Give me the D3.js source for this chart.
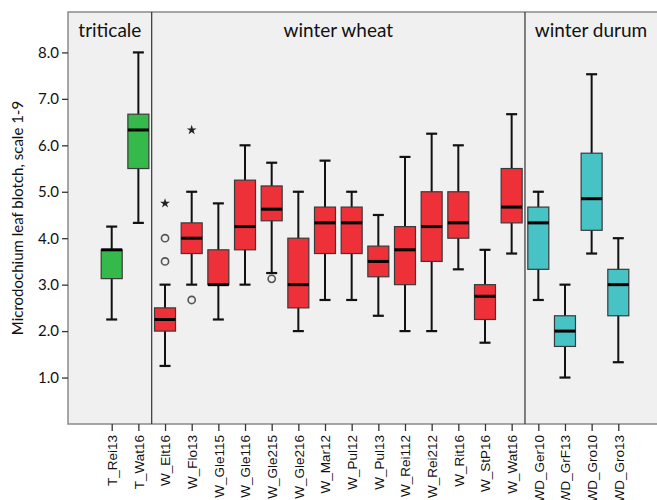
<!DOCTYPE html>
<html>
<head>
<meta charset="utf-8">
<script src="https://cdn.jsdelivr.net/npm/d3@7"></script>
<style>
  body { margin: 0; background: #fff; }
  svg { display: block; }
</style>
</head>
<body>
<div id="wrapper"></div>
<script>
// categories and their group
const categories = ["T_Rei13", "T_Wat16", "W_Elt16", "W_Flo13", "W_Gle115", "W_Gle116", "W_Gle215",
  "W_Gle216", "W_Mar12", "W_Pul12", "W_Pul13", "W_Rei112", "W_Rei212", "W_Rit16", "W_StP16",
  "W_Wat16", "WD_Ger10", "WD_GrF13", "WD_Gro10", "WD_Gro13"]
const groupOf = ["T", "T", "W", "W", "W", "W", "W", "W", "W", "W", "W", "W", "W", "W", "W", "W",
  "WD", "WD", "WD", "WD"]
const groups = ["T", "W", "WD"]
const groupLabels = ["triticale", "winter wheat", "winter durum"]

// box statistics
const whiskerLow = [2.25, 4.33, 1.25, 3.0, 2.25, 3.0, 3.25, 2.0, 2.67, 2.67, 2.33, 2.0, 2.0, 3.33, 1.75, 3.67, 2.67, 1.0, 3.67, 1.33]
const q1 = [3.13, 5.5, 2.0, 3.67, 3.0, 3.75, 4.375, 2.5, 3.67, 3.67, 3.17, 3.0, 3.5, 4.0, 2.25, 4.33, 3.33, 1.67, 4.17, 2.33]
const median = [3.75, 6.33, 2.25, 4.0, 3.0, 4.25, 4.625, 3.0, 4.33, 4.33, 3.5, 3.75, 4.25, 4.33, 2.75, 4.67, 4.33, 2.0, 4.85, 3.0]
const q3 = [3.75, 6.67, 2.5, 4.33, 3.75, 5.25, 5.125, 4.0, 4.67, 4.67, 3.83, 4.25, 5.0, 5.0, 3.0, 5.5, 4.67, 2.33, 5.83, 3.33]
const whiskerHigh = [4.25, 8.0, 3.0, 5.0, 4.75, 6.0, 5.625, 5.0, 5.67, 5.0, 4.5, 5.75, 6.25, 6.0, 3.75, 6.67, 5.0, 3.0, 7.53, 4.0]

// outliers: [category, value]
const circleOutliers = [["W_Elt16", 4.0], ["W_Elt16", 3.5], ["W_Flo13", 2.67], ["W_Gle215", 3.125]]
const starOutliers = [["W_Elt16", 4.75], ["W_Flo13", 6.33]]

const yTicks = [1, 2, 3, 4, 5, 6, 7, 8]
const groupColor = { T: "#35b94b", W: "#ee3039", WD: "#47c2c5" }

const dimensions = {
  width: 657,
  height: 500,
  plot: { left: 68, top: 12, right: 662, bottom: 424 }
}

const svg = d3.select("#wrapper").append("svg")
    .attr("width", dimensions.width)
    .attr("height", dimensions.height)

const yScale = d3.scaleLinear()
    .domain([0, 8.87])
    .range([dimensions.plot.bottom, dimensions.plot.top])

const xScale = d3.scalePoint()
    .domain(categories)
    .range([111.7, 618.3])

const step = xScale.step()
const boxWidth = 21
const capWidth = 11

// background panel
svg.append("rect")
    .attr("x", dimensions.plot.left)
    .attr("y", dimensions.plot.top)
    .attr("width", dimensions.plot.right - dimensions.plot.left)
    .attr("height", dimensions.plot.bottom - dimensions.plot.top)
    .attr("fill", "#f0f0f0")
    .attr("stroke", "#8a8a8a")
    .attr("stroke-width", 1.5)

// group dividers and headers
const groupBounds = groups.map(g => {
  const idx = categories.filter((c, i) => groupOf[i] === g)
  const first = xScale(idx[0]) - step / 2
  const last = xScale(idx[idx.length - 1]) + step / 2
  return { g, first, last }
})
groupBounds[0].first = dimensions.plot.left
groupBounds[groupBounds.length - 1].last = 657

groupBounds.slice(1).forEach(b => {
  svg.append("line")
      .attr("x1", b.first).attr("x2", b.first)
      .attr("y1", dimensions.plot.top).attr("y2", dimensions.plot.bottom)
      .attr("stroke", "#333")
      .attr("stroke-width", 1.2)
})

svg.selectAll(".group-label")
  .data(groupBounds)
  .join("text")
    .attr("class", "group-label")
    .attr("x", d => (d.first + d.last) / 2)
    .attr("y", 36.5)
    .attr("text-anchor", "middle")
    .attr("font-family", "Lato, sans-serif")
    .attr("font-size", 19)
    .attr("fill", "#111")
    .text((d, i) => groupLabels[i])

// y axis
const yAxis = svg.append("g")
    .attr("transform", `translate(${dimensions.plot.left},0)`)
    .call(d3.axisLeft(yScale).tickValues(yTicks).tickFormat(d3.format(".1f")).tickSize(6).tickPadding(3))
yAxis.select(".domain").remove()
yAxis.selectAll("line").attr("stroke", "#333").attr("stroke-width", 1.3)
yAxis.selectAll("text")
    .attr("font-family", "Lato, sans-serif")
    .attr("font-size", 15)
    .attr("fill", "#111")

svg.append("text")
    .attr("transform", `translate(23,${(dimensions.plot.top + dimensions.plot.bottom) / 2}) rotate(-90)`)
    .attr("text-anchor", "middle")
    .attr("font-family", "Lato, sans-serif")
    .attr("font-size", 15)
    .attr("fill", "#111")
    .text("Microdochium leaf blotch, scale 1-9")

// x axis
const xAxis = svg.append("g")
    .attr("transform", `translate(0,${dimensions.plot.bottom})`)
    .call(d3.axisBottom(xScale).tickSize(7).tickPadding(2))
xAxis.select(".domain").remove()
xAxis.selectAll("line").attr("stroke", "#333").attr("stroke-width", 1.3)
xAxis.selectAll("text")
    .attr("font-family", "Liberation Sans, Arial, sans-serif")
    .attr("font-size", 13.5)
    .attr("fill", "#111")
    .attr("text-anchor", "end")
    .attr("dy", "0.35em")
    .attr("transform", "translate(0,2) rotate(-90)")
    .attr("x", -9)
    .attr("y", 0)

// boxes
const boxes = svg.append("g")
  .selectAll("g")
  .data(categories)
  .join("g")
    .attr("transform", d => `translate(${xScale(d)},0)`)

boxes.append("line")
    .attr("y1", (d, i) => yScale(whiskerLow[i]))
    .attr("y2", (d, i) => yScale(whiskerHigh[i]))
    .attr("stroke", "#111")
    .attr("stroke-width", 2)

boxes.append("line")
    .attr("x1", -capWidth / 2).attr("x2", capWidth / 2)
    .attr("y1", (d, i) => yScale(whiskerLow[i]))
    .attr("y2", (d, i) => yScale(whiskerLow[i]))
    .attr("stroke", "#111")
    .attr("stroke-width", 2.2)

boxes.append("line")
    .attr("x1", -capWidth / 2).attr("x2", capWidth / 2)
    .attr("y1", (d, i) => yScale(whiskerHigh[i]))
    .attr("y2", (d, i) => yScale(whiskerHigh[i]))
    .attr("stroke", "#111")
    .attr("stroke-width", 2.2)

boxes.append("rect")
    .attr("x", -boxWidth / 2)
    .attr("width", boxWidth)
    .attr("y", (d, i) => yScale(q3[i]))
    .attr("height", (d, i) => yScale(q1[i]) - yScale(q3[i]))
    .attr("fill", (d, i) => groupColor[groupOf[i]])
    .attr("stroke", "#3a3a3a")
    .attr("stroke-width", 1.2)

boxes.append("line")
    .attr("x1", -boxWidth / 2).attr("x2", boxWidth / 2)
    .attr("y1", (d, i) => yScale(median[i]))
    .attr("y2", (d, i) => yScale(median[i]))
    .attr("stroke", "#000")
    .attr("stroke-width", 3)

// outliers
svg.append("g")
  .selectAll("circle")
  .data(circleOutliers)
  .join("circle")
    .attr("cx", d => xScale(d[0]))
    .attr("cy", d => yScale(d[1]))
    .attr("r", 3.6)
    .attr("fill", "none")
    .attr("stroke", "#555")
    .attr("stroke-width", 1.6)

svg.append("g")
  .selectAll("path")
  .data(starOutliers)
  .join("path")
    .attr("transform", d => `translate(${xScale(d[0])},${yScale(d[1])})`)
    .attr("d", d3.symbol(d3.symbolStar, 30))
    .attr("fill", "#222")
</script>
</body>
</html>
